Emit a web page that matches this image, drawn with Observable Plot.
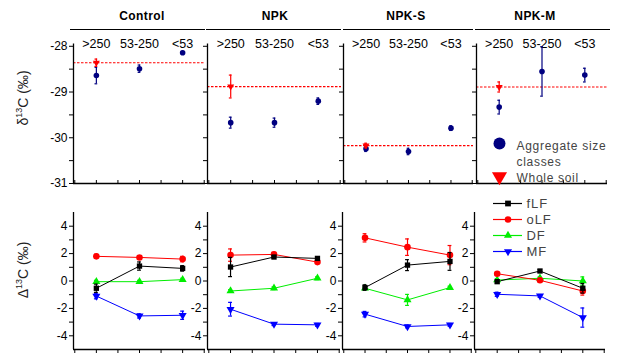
<!DOCTYPE html>
<html>
<head>
<meta charset="utf-8">
<script src="https://cdn.jsdelivr.net/npm/d3@7"></script>
<script src="https://cdn.jsdelivr.net/npm/@observablehq/plot@0.6"></script>
<style>
  body { margin: 0; background: white; font-family: "Liberation Sans", Arial, sans-serif; }
  #chart { position: relative; width: 625px; height: 360px; overflow: hidden; background: white; }
  .hdr { position: absolute; font-size: 12px; font-weight: bold; letter-spacing: 0.4px; transform: translate(-50%, -50%); white-space: nowrap; }
  .hline { position: absolute; height: 1.3px; background: black; }
  .ytitle { position: absolute; width: 120px; text-align: center; font-size: 14px; line-height: 16px; transform: rotate(-90deg); transform-origin: 50% 50%; white-space: nowrap; color: #222; }
  .ytitle sup { font-size: 9px; vertical-align: 6px; line-height: 0; }
  .lgdTop text { letter-spacing: 0.7px; }
  .lgdBot text { letter-spacing: 0.9px; }
</style>
</head>
<body>
<div id="chart"></div>
<script>
// ---------------- data ----------------
const treatments = ["Control", "NPK", "NPK-S", "NPK-M"];
const sizeClasses = [">250", "53-250", "<53"];
const sizeIndex = [1, 2, 3];

// delta13C (per mil) of aggregate size classes, per treatment
const aggregateMean = [
  [-28.64, -28.49, -28.14],
  [-29.67, -29.67, -29.20],
  [-30.24, -30.30, -29.79],
  [-29.33, -28.55, -28.63]
];
const aggregateErr = [
  [0.18, 0.08, 0.03],
  [0.12, 0.10, 0.07],
  [0.06, 0.07, 0.05],
  [0.15, 0.54, 0.15]
];
// whole soil delta13C per treatment
const wholeSoilMean = [-28.36, -28.88, -30.17, -28.89];
const wholeSoilErr = [0.08, 0.25, 0.05, 0.11];

// Delta13C (per mil) of fractions, per treatment x size class
const fractions = ["fLF", "oLF", "DF", "MF"];
const fLFMean = [[-0.53, 1.09, 0.92], [1.02, 1.75, 1.65], [-0.48, 1.16, 1.43], [-0.05, 0.73, -0.53]];
const fLFErr  = [[0.30, 0.30, 0.20], [0.70, 0.10, 0.10], [0.20, 0.40, 0.65], [0.10, 0.10, 0.35]];
const oLFMean = [[1.80, 1.72, 1.60], [1.89, 1.94, 1.38], [3.15, 2.47, 1.89], [0.53, 0.05, -0.73]];
const oLFErr  = [[0.15, 0.10, 0.20], [0.45, 0.15, 0.10], [0.30, 0.60, 0.70], [0.10, 0.10, 0.30]];
const DFMean  = [[-0.05, -0.05, 0.10], [-0.73, -0.53, 0.20], [-0.53, -1.38, -0.48], [0.07, 0.20, 0.00]];
const DFErr   = [[0.10, 0.10, 0.10], [0.10, 0.10, 0.10], [0.10, 0.40, 0.10], [0.10, 0.10, 0.30]];
const MFMean  = [[-1.10, -2.55, -2.50], [-2.06, -3.15, -3.20], [-2.42, -3.32, -3.20], [-0.97, -1.09, -2.67]];
const MFErr   = [[0.20, 0.15, 0.30], [0.50, 0.10, 0.10], [0.20, 0.10, 0.10], [0.15, 0.10, 0.70]];

const topTicks = [-31, -30, -29, -28];
const topMinorTicks = [-31, -30.5, -30, -29.5, -29, -28.5, -28];
const botTicks = [-4, -2, 0, 2, 4];
const botMinorTicks = [-4, -3, -2, -1, 0, 1, 2, 3, 4];
const xTicks = [0.5, 1, 1.5, 2, 2.5, 3, 3.5];

// ---------------- layout / style ----------------
const W = 625, H = 360;
const xDomain = [0.47, 3.53];
const topYDomain = [-31, -27.95];
const botYDomain = [-5, 5];
const topLeft = [73, 207, 343, 476], topRight = [205, 341, 473, 607];
const botLeft = [73, 207, 342, 474], botRight = [205, 340, 472, 605];
const topFrame = [43.5, 183];
const botFrame = [212, 349];
const fracColor = {fLF: "#000000", oLF: "#ff0000", DF: "#00ee00", MF: "#0000ff"};
const fracSymbol = {fLF: "square", oLF: "circle", DF: "triangle", MF: "triangle"};
const fracRotate = {fLF: 0, oLF: 0, DF: 0, MF: 180};
const fracR = {fLF: 3, oLF: 3.3, DF: 3, MF: 3};
const cap = 0.045;

const svgStyle = {
  position: "absolute", left: "0px", top: "0px", background: "transparent",
  overflow: "visible", fontFamily: "'Liberation Sans', Arial, sans-serif", fontSize: "12px", color: "black"
};

const chart = document.getElementById("chart");

function errorMarks(data, color, capW) {
  return [
    Plot.ruleX(data, {x: "x", y1: d => d.v - d.e, y2: d => d.v + d.e, stroke: color, strokeWidth: 1.2}),
    Plot.ruleY(data, {y: d => d.v + d.e, x1: d => d.x - capW, x2: d => d.x + capW, stroke: color, strokeWidth: 1.2}),
    Plot.ruleY(data, {y: d => d.v - d.e, x1: d => d.x - capW, x2: d => d.x + capW, stroke: color, strokeWidth: 1.2})
  ];
}

// ---------------- top row ----------------
treatments.forEach((t, i) => {
  const agg = sizeIndex.map((x, j) => ({x, v: aggregateMean[i][j], e: aggregateErr[i][j]}));
  const ws = [{x: sizeIndex[0], v: wholeSoilMean[i], e: wholeSoilErr[i]}];
  const marks = [
    Plot.ruleY([wholeSoilMean[i]], {stroke: "#ff0000", strokeWidth: 1.2, strokeDasharray: "2.5,1.5"}),
    Plot.ruleX([xDomain[0]], {stroke: "black", strokeWidth: 1.3}),
    Plot.ruleY([topYDomain[0]], {stroke: "black", strokeWidth: 1.3}),
    Plot.axisY({ticks: topMinorTicks, tickSize: 4, tickFormat: () => "", label: null}),
    Plot.axisX({anchor: "bottom", ticks: xTicks, tickSize: -3, tickFormat: () => "", label: null}),
    Plot.text(sizeClasses, {x: (d, j) => sizeIndex[j], text: d => d, frameAnchor: "top", dy: -5, fontSize: 12.5}),
    ...errorMarks(agg, "#000080", cap * 0.7),
    Plot.dot(agg, {x: "x", y: "v", r: 2.8, fill: "#000080", stroke: "none"}),
    ...errorMarks(ws, "#ff0000", cap * 0.7),
    Plot.dot(ws, {x: "x", y: "v", symbol: "triangle", rotate: 180, r: 2.6, fill: "#ff0000", stroke: "none"})
  ];
  if (i === 0) marks.push(Plot.axisY({ticks: topTicks, tickSize: 0, tickPadding: 6, fontSize: 12, tickFormat: d => String(d), label: null}));
  const svg = Plot.plot({
    width: W, height: H,
    marginLeft: topLeft[i], marginRight: W - topRight[i], marginTop: topFrame[0], marginBottom: H - topFrame[1],
    x: {domain: xDomain, axis: null},
    y: {domain: topYDomain, axis: null},
    style: svgStyle,
    marks
  });
  chart.appendChild(svg);
});

// ---------------- bottom row ----------------
const fracMean = {fLF: fLFMean, oLF: oLFMean, DF: DFMean, MF: MFMean};
const fracErr = {fLF: fLFErr, oLF: oLFErr, DF: DFErr, MF: MFErr};
const drawOrder = ["MF", "DF", "oLF", "fLF"];
treatments.forEach((t, i) => {
  const marks = [
    Plot.ruleX([xDomain[0]], {stroke: "black", strokeWidth: 1.3}),
    Plot.ruleY([botYDomain[0]], {stroke: "black", strokeWidth: 1.3}),
    Plot.axisY({ticks: botMinorTicks, tickSize: 4, tickFormat: () => "", label: null}),
    Plot.axisY({ticks: botTicks, tickSize: 0, tickPadding: 6, fontSize: 12, tickFormat: d => String(d), label: null}),
    Plot.axisX({anchor: "bottom", ticks: xTicks, tickSize: 4, tickFormat: () => "", label: null})
  ];
  drawOrder.forEach(f => {
    const data = sizeIndex.map((x, j) => ({x, v: fracMean[f][i][j], e: fracErr[f][i][j]}));
    marks.push(Plot.line(data, {x: "x", y: "v", stroke: fracColor[f], strokeWidth: 1}));
  });
  drawOrder.forEach(f => {
    const data = sizeIndex.map((x, j) => ({x, v: fracMean[f][i][j], e: fracErr[f][i][j]}));
    marks.push(...errorMarks(data, fracColor[f], cap));
    marks.push(Plot.dot(data, {x: "x", y: "v", symbol: fracSymbol[f], rotate: fracRotate[f], r: fracR[f], fill: fracColor[f], stroke: "none"}));
  });
  const svg = Plot.plot({
    width: W, height: H,
    marginLeft: botLeft[i], marginRight: W - botRight[i], marginTop: botFrame[0], marginBottom: H - botFrame[1],
    x: {domain: xDomain, axis: null},
    y: {domain: botYDomain, axis: null},
    style: svgStyle,
    marks
  });
  chart.appendChild(svg);
});

// ---------------- legends ----------------
const topLegendItems = ["Aggregate size\nclasses", "Whole soil"];
chart.appendChild(Plot.plot({
  width: W, height: H, margin: 0, className: "lgdTop",
  x: {domain: [0, 1], range: [499, 516], axis: null},
  y: {type: "point", domain: topLegendItems, range: [143, 175], padding: 0, axis: null},
  style: svgStyle,
  marks: [
    Plot.dot([topLegendItems[0]], {x: 0, y: d => d, r: 6, fill: "#000080", stroke: "none"}),
    Plot.dot([topLegendItems[1]], {x: 0, y: d => d, dy: 1, symbol: "triangle", rotate: 180, r: 5.6, fill: "#ff0000", stroke: "none"}),
    Plot.text(topLegendItems, {x: 1, y: d => d, text: d => d, textAnchor: "start", lineAnchor: "top", dy: -4.5, lineHeight: 1.3, fontSize: 12, fill: "#444"})
  ]
}));

chart.appendChild(Plot.plot({
  width: W, height: H, margin: 0, className: "lgdBot",
  x: {domain: [0, 1], range: [493, 522], axis: null},
  y: {type: "point", domain: fractions, range: [203, 251], padding: 0, axis: null},
  style: svgStyle,
  marks: [
    Plot.ruleY(fractions, {y: d => d, x1: 0, x2: 1, stroke: d => fracColor[d], strokeWidth: 1.2}),
    Plot.dot(fractions, {x: 0.5, y: d => d, symbol: d => fracSymbol[d], rotate: d => fracRotate[d], r: d => (fracSymbol[d] === "triangle" ? 5.6 : 6.6), fill: d => fracColor[d], stroke: "none"}),
    Plot.text(fractions, {x: 1, y: d => d, text: d => d, textAnchor: "start", dx: 4, fontSize: 13, fill: "#444"})
  ]
}));

// ---------------- headers & axis titles ----------------
const headerX = [142, 275, 406, 535];
const headerLines = [[70, 205], [206, 341], [343, 473], [475, 610]];
treatments.forEach((t, i) => {
  const h = document.createElement("div");
  h.className = "hdr";
  h.textContent = t;
  h.style.left = headerX[i] + "px";
  h.style.top = "16px";
  chart.appendChild(h);
  const l = document.createElement("div");
  l.className = "hline";
  l.style.left = headerLines[i][0] + "px";
  l.style.width = (headerLines[i][1] - headerLines[i][0]) + "px";
  l.style.top = "28.5px";
  chart.appendChild(l);
});
function yTitle(html, cx, cy) {
  const d = document.createElement("div");
  d.className = "ytitle";
  d.innerHTML = html;
  d.style.left = (cx - 60) + "px";
  d.style.top = (cy - 8) + "px";
  chart.appendChild(d);
}
yTitle("δ<sup>13</sup>C (‰)", 23, 98);
yTitle("Δ<sup>13</sup>C (‰)", 23, 270);
</script>
</body>
</html>
